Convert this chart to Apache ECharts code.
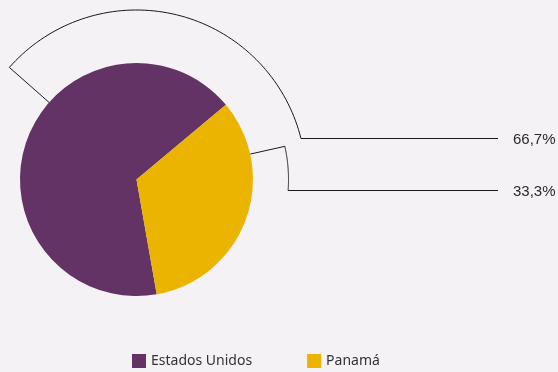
<!DOCTYPE html>
<html><head><meta charset="utf-8">
<script src="https://cdn.jsdelivr.net/npm/echarts@6/dist/echarts.min.js"></script>
<style>html,body{margin:0;padding:0;background:#f4f2f5}#c{width:558px;height:372px}</style>
</head><body><div id="c"></div>
<script>
var categories = ['Estados Unidos', 'Panamá'];
var values = [66.7, 33.3];
var colors = ['#633366', '#ebb400'];

var CX = 136.5, CY = 179.5, R = 116.5;
// callout geometry per slice: radial angle, outer radius, label y
var callouts = [
  { ang: 138.6, r: 169.5, y: 138.5 },
  { ang: 12.6, r: 152, y: 190.5 }
];
var LINE_END_X = 498, LABEL_X = 513;

function pt(r, a) {
  var t = a * Math.PI / 180;
  return [CX + r * Math.cos(t), CY - r * Math.sin(t)];
}

var chart = echarts.init(document.getElementById('c'));
chart.setOption({
  backgroundColor: '#f4f2f5',
  animation: false,
  legend: {
    left: 127, top: 349,
    itemWidth: 14, itemHeight: 14, itemGap: 55,
    icon: 'rect',
    textStyle: { fontFamily: 'Noto Sans', fontSize: 14, color: '#333' },
    data: categories
  },
  series: [{
    type: 'pie',
    center: [CX, CY],
    radius: R,
    startAngle: -80,
    clockwise: true,
    avoidLabelOverlap: false,
    data: categories.map(function (c, i) {
      return { name: c, value: values[i], itemStyle: { color: colors[i] } };
    }),
    label: {
      show: true, position: 'outside',
      fontFamily: 'Liberation Sans', fontSize: 15, color: '#2a2a2a',
      formatter: function (p) { return String(p.value).replace('.', ',') + '%'; }
    },
    labelLine: { show: true, lineStyle: { color: '#1a1a1a', width: 1 }, smooth: false },
    labelLayout: function (p) {
      var c = callouts[p.dataIndex];
      var pts = [pt(R, c.ang), pt(c.r, c.ang)];
      var endA = Math.asin((CY - c.y) / c.r) * 180 / Math.PI;
      var n = 80;
      for (var k = 1; k <= n; k++) {
        pts.push(pt(c.r, c.ang + (endA - c.ang) * k / n));
      }
      pts.push([LINE_END_X, c.y]);
      return {
        x: LABEL_X, y: c.y + 1, align: 'left', verticalAlign: 'middle',
        labelLinePoints: pts
      };
    }
  }]
});
</script></body></html>
